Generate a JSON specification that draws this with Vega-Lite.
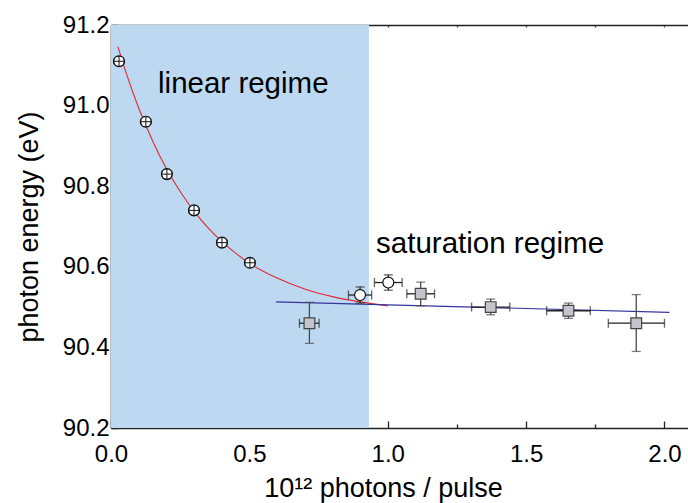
{
  "$schema": "https://vega.github.io/schema/vega-lite/v6.json",
  "width": 577,
  "height": 403,
  "autosize": "none",
  "padding": {"left": 111, "top": 25, "right": 0, "bottom": 75},
  "config": {"font": "Liberation Sans", "view": {"stroke": null}},
  "datasets": {
    "region": [{"x0": 0, "x1": 0.932, "y0": 90.2, "y1": 91.2}],
    "redfit": [
      {"x": 0.025, "y": 91.146}, {"x": 0.05, "y": 91.091}, {"x": 0.1, "y": 90.994},
      {"x": 0.15, "y": 90.913}, {"x": 0.2, "y": 90.844}, {"x": 0.25, "y": 90.787},
      {"x": 0.3, "y": 90.738}, {"x": 0.35, "y": 90.697}, {"x": 0.4, "y": 90.663},
      {"x": 0.45, "y": 90.634}, {"x": 0.5, "y": 90.609}, {"x": 0.6, "y": 90.572},
      {"x": 0.7, "y": 90.545}, {"x": 0.8, "y": 90.526}, {"x": 0.9, "y": 90.513},
      {"x": 1.0, "y": 90.503}
    ],
    "bluefit": [{"x": 0.596, "y": 90.513}, {"x": 2.018, "y": 90.487}],
    "lin": [
      {"x": 0.029, "y": 91.11, "xlo": 0.011, "xhi": 0.047, "ylo": 91.098, "yhi": 91.122},
      {"x": 0.126, "y": 90.96, "xlo": 0.108, "xhi": 0.144, "ylo": 90.948, "yhi": 90.972},
      {"x": 0.202, "y": 90.83, "xlo": 0.184, "xhi": 0.22, "ylo": 90.818, "yhi": 90.842},
      {"x": 0.3, "y": 90.74, "xlo": 0.282, "xhi": 0.318, "ylo": 90.728, "yhi": 90.752},
      {"x": 0.401, "y": 90.66, "xlo": 0.383, "xhi": 0.419, "ylo": 90.648, "yhi": 90.672},
      {"x": 0.502, "y": 90.61, "xlo": 0.484, "xhi": 0.52, "ylo": 90.598, "yhi": 90.622}
    ],
    "open": [
      {"x": 0.9, "y": 90.53, "xlo": 0.858, "xhi": 0.942, "ylo": 90.51, "yhi": 90.55},
      {"x": 1.002, "y": 90.561, "xlo": 0.952, "xhi": 1.052, "ylo": 90.542, "yhi": 90.58}
    ],
    "sq": [
      {"x": 0.717, "y": 90.46, "xlo": 0.681, "xhi": 0.752, "ylo": 90.41, "yhi": 90.512},
      {"x": 1.119, "y": 90.533, "xlo": 1.069, "xhi": 1.169, "ylo": 90.503, "yhi": 90.562},
      {"x": 1.372, "y": 90.5, "xlo": 1.303, "xhi": 1.441, "ylo": 90.481, "yhi": 90.52},
      {"x": 1.653, "y": 90.491, "xlo": 1.574, "xhi": 1.732, "ylo": 90.472, "yhi": 90.51},
      {"x": 1.898, "y": 90.46, "xlo": 1.797, "xhi": 2.0, "ylo": 90.39, "yhi": 90.531}
    ],
    "labels": [
      {"x": 0.170, "y": 91.031, "text": "linear regime"},
      {"x": 0.958, "y": 90.634, "text": "saturation regime"}
    ]
  },
  "resolve": {"axis": {"x": "independent", "y": "independent"}},
  "layer": [
    {
      "data": {"name": "region"},
      "mark": {"type": "rect", "color": "#bcd9f1"},
      "encoding": {
        "x": {"field": "x0", "type": "quantitative",
          "scale": {"domain": [0, 2.085], "nice": false, "zero": false},
          "axis": {"orient": "bottom", "values": [0, 0.5, 1, 1.5, 2], "format": ".1f",
            "tickSize": -7, "tickColor": "#222", "tickWidth": 1.3,
            "domainColor": "#222", "domainWidth": 1.6, "grid": false,
            "labelFontSize": 24, "labelColor": "black", "labelPadding": 21, "labelFlush": false,
            "title": "10¹² photons / pulse", "titleFontSize": 27, "titleFontWeight": "normal",
            "titleColor": "black", "titlePadding": 9, "titleX": 272}},
        "x2": {"field": "x1"},
        "y": {"field": "y0", "type": "quantitative",
          "scale": {"domain": [90.2, 91.2], "nice": false, "zero": false},
          "axis": {"orient": "left", "values": [90.2, 90.4, 90.6, 90.8, 91.0, 91.2], "format": ".1f",
            "tickSize": -7, "tickColor": "#222", "tickWidth": 1.3,
            "domainColor": "#222", "domainWidth": 1.6, "grid": false,
            "labelFontSize": 24, "labelColor": "black", "labelPadding": 9,
            "title": "photon energy (eV)", "titleFontSize": 27, "titleFontWeight": "normal",
            "titleColor": "black", "titlePadding": 19}},
        "y2": {"field": "y1"}
      }
    },
    {
      "data": {"name": "redfit"},
      "mark": {"type": "line", "color": "#e5282e", "strokeWidth": 1.1, "interpolate": "monotone"},
      "encoding": {
        "x": {"field": "x", "type": "quantitative",
          "axis": {"orient": "bottom", "values": [0.25, 0.75, 1.25, 1.75], "labels": false, "domain": false,
            "tickSize": -4, "tickColor": "#222", "tickWidth": 1.3, "grid": false, "title": null}},
        "y": {"field": "y", "type": "quantitative",
          "axis": {"orient": "left", "values": [90.3, 90.5, 90.7, 90.9, 91.1], "labels": false, "domain": false,
            "tickSize": -4, "tickColor": "#222", "tickWidth": 1.3, "grid": false, "title": null}}
      }
    },
    {
      "data": {"name": "bluefit"},
      "mark": {"type": "line", "color": "#34349c", "strokeWidth": 1.1},
      "encoding": {
        "x": {"field": "x", "type": "quantitative",
          "axis": {"orient": "top", "values": [0.25, 0.5, 0.75, 1, 1.25, 1.5, 1.75, 2], "labels": false,
            "domainColor": "#222", "domainWidth": 1.6,
            "tickSize": -2, "tickColor": "#444", "tickWidth": 1.3, "grid": false, "title": null}},
        "y": {"field": "y", "type": "quantitative", "axis": null}
      }
    },
    {
      "data": {"name": "open"},
      "mark": {"type": "errorbar", "color": "#222", "thickness": 1.3, "ticks": {"size": 9, "thickness": 1.3}},
      "encoding": {
        "x": {"field": "xlo", "type": "quantitative", "axis": null},
        "x2": {"field": "xhi"},
        "y": {"field": "y", "type": "quantitative", "axis": null}
      }
    },
    {
      "data": {"name": "open"},
      "mark": {"type": "errorbar", "color": "#222", "thickness": 1.3, "ticks": {"size": 9, "thickness": 1.3}},
      "encoding": {
        "y": {"field": "ylo", "type": "quantitative", "axis": null},
        "y2": {"field": "yhi"},
        "x": {"field": "x", "type": "quantitative", "axis": null}
      }
    },
    {
      "data": {"name": "sq"},
      "mark": {"type": "errorbar", "color": "#222", "thickness": 1.3, "ticks": {"size": 9, "thickness": 1.3}},
      "encoding": {
        "x": {"field": "xlo", "type": "quantitative", "axis": null},
        "x2": {"field": "xhi"},
        "y": {"field": "y", "type": "quantitative", "axis": null}
      }
    },
    {
      "data": {"name": "sq"},
      "mark": {"type": "errorbar", "color": "#4a4a4a", "thickness": 1.3, "ticks": {"size": 9, "thickness": 1.3}},
      "encoding": {
        "y": {"field": "ylo", "type": "quantitative", "axis": null},
        "y2": {"field": "yhi"},
        "x": {"field": "x", "type": "quantitative", "axis": null}
      }
    },
    {
      "data": {"name": "lin"},
      "mark": {"type": "point", "shape": "circle", "filled": true, "fill": "white", "stroke": "#111", "strokeWidth": 1.2, "size": 120, "opacity": 1},
      "encoding": {
        "x": {"field": "x", "type": "quantitative", "axis": null},
        "y": {"field": "y", "type": "quantitative", "axis": null}
      }
    },
    {
      "data": {"name": "open"},
      "mark": {"type": "point", "shape": "circle", "filled": true, "fill": "white", "stroke": "#111", "strokeWidth": 1.2, "size": 120, "opacity": 1},
      "encoding": {
        "x": {"field": "x", "type": "quantitative", "axis": null},
        "y": {"field": "y", "type": "quantitative", "axis": null}
      }
    },
    {
      "data": {"name": "sq"},
      "mark": {"type": "point", "shape": "square", "filled": true, "fill": "#c3c4cc", "stroke": "#444", "strokeWidth": 1.2, "size": 115, "opacity": 1},
      "encoding": {
        "x": {"field": "x", "type": "quantitative", "axis": null},
        "y": {"field": "y", "type": "quantitative", "axis": null}
      }
    },
    {
      "data": {"name": "lin"},
      "mark": {"type": "errorbar", "color": "#111", "thickness": 1, "ticks": {"size": 6, "thickness": 1}},
      "encoding": {
        "x": {"field": "xlo", "type": "quantitative", "axis": null},
        "x2": {"field": "xhi"},
        "y": {"field": "y", "type": "quantitative", "axis": null}
      }
    },
    {
      "data": {"name": "lin"},
      "mark": {"type": "errorbar", "color": "#111", "thickness": 1, "ticks": {"size": 6, "thickness": 1}},
      "encoding": {
        "y": {"field": "ylo", "type": "quantitative", "axis": null},
        "y2": {"field": "yhi"},
        "x": {"field": "x", "type": "quantitative", "axis": null}
      }
    },
    {
      "data": {"name": "labels"},
      "mark": {"type": "text", "align": "left", "baseline": "alphabetic", "fontSize": 29.5, "color": "black"},
      "encoding": {
        "x": {"field": "x", "type": "quantitative", "axis": null},
        "y": {"field": "y", "type": "quantitative", "axis": null},
        "text": {"field": "text"}
      }
    }
  ]
}
